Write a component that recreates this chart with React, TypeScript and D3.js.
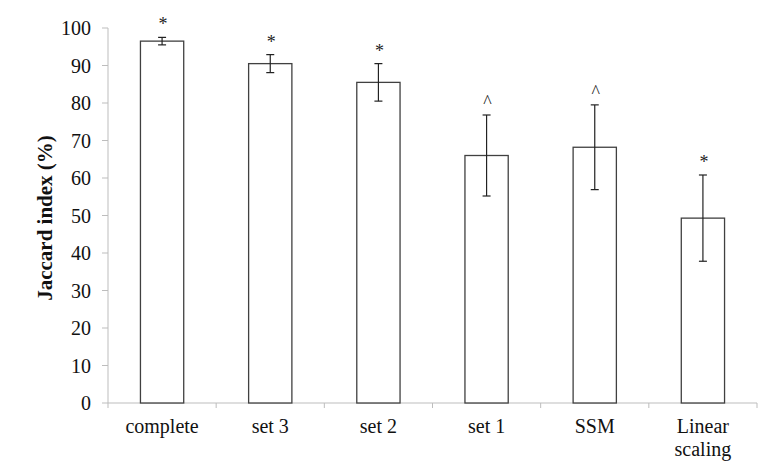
import React from "react";
import * as d3 from "d3";

const categories = ["complete", "set 3", "set 2", "set 1", "SSM", "Linear scaling"];
const values = [96.5, 90.5, 85.5, 66.0, 68.2, 49.3];
const errors = [1.0, 2.4, 5.0, 10.8, 11.3, 11.5];
const markers = ["*", "*", "*", "^", "^", "*"];
const yTicks = [0, 10, 20, 30, 40, 50, 60, 70, 80, 90, 100];

const W = 766, H = 469;
const left = 108, right = 757, top = 28, bottom = 403;

export default function App() {
  const x = d3.scaleBand<string>().domain(categories).range([left, right]).paddingInner(0.6).paddingOuter(0.3);
  const y = d3.scaleLinear().domain([0, 100]).range([bottom, top]);
  const font = "'Liberation Serif', 'Times New Roman', serif";
  const band = (right - left) / categories.length;
  const boundaries = d3.range(categories.length + 1).map((i) => left + band * i);
  const cx = (i: number) => (x(categories[i]) as number) + x.bandwidth() / 2;
  const bw = band * 0.4;
  return (
    <svg width={W} height={H} style={{ position: "absolute", left: 0, top: 0, background: "#fff" }}>
      <rect x={0} y={0} width={W} height={H} fill="#fff" />
      <line x1={left} x2={left} y1={top} y2={bottom} stroke="#bdbdbd" strokeWidth={1} />
      {yTicks.map((t) => (
        <g key={t}>
          <line x1={left - 6} x2={left} y1={y(t)} y2={y(t)} stroke="#bdbdbd" />
          <text x={91} y={y(t)} dy="0.35em" textAnchor="end" fontFamily={font} fontSize={20} fill="#111">
            {t}
          </text>
        </g>
      ))}
      <line x1={left} x2={right} y1={bottom} y2={bottom} stroke="#bdbdbd" />
      {boundaries.map((b, i) => (
        <line key={i} x1={b} x2={b} y1={bottom} y2={bottom + 5} stroke="#bdbdbd" />
      ))}
      {categories.map((c, i) => {
        const v = values[i];
        const e = errors[i];
        const c0 = cx(i);
        return (
          <g key={c}>
            <rect x={c0 - bw / 2} y={y(v)} width={bw} height={bottom - y(v)} fill="#fff" stroke="#404040" strokeWidth={1.3} />
            <line x1={c0} x2={c0} y1={y(v + e)} y2={y(v - e)} stroke="#222" strokeWidth={1.2} />
            <line x1={c0 - 4} x2={c0 + 4} y1={y(v + e)} y2={y(v + e)} stroke="#222" strokeWidth={1.2} />
            <line x1={c0 - 4} x2={c0 + 4} y1={y(v - e)} y2={y(v - e)} stroke="#222" strokeWidth={1.2} />
            <text x={c0 + 1} y={y(v + e) - 7} textAnchor="middle" fontFamily={font} fontSize={18} fill="#222">
              {markers[i]}
            </text>
          </g>
        );
      })}
      {categories.map((c, i) => {
        const parts = c === "Linear scaling" ? ["Linear", "scaling"] : [c];
        return parts.map((p, j) => (
          <text key={c + j} x={cx(i)} y={433 + j * 23} textAnchor="middle" fontFamily={font} fontSize={20} fill="#111">
            {p}
          </text>
        ));
      })}
      <text transform={`translate(52,218) rotate(-90)`} textAnchor="middle" fontFamily={font} fontSize={21} fontWeight="bold" fill="#111">
        Jaccard index (%)
      </text>
    </svg>
  );
}
